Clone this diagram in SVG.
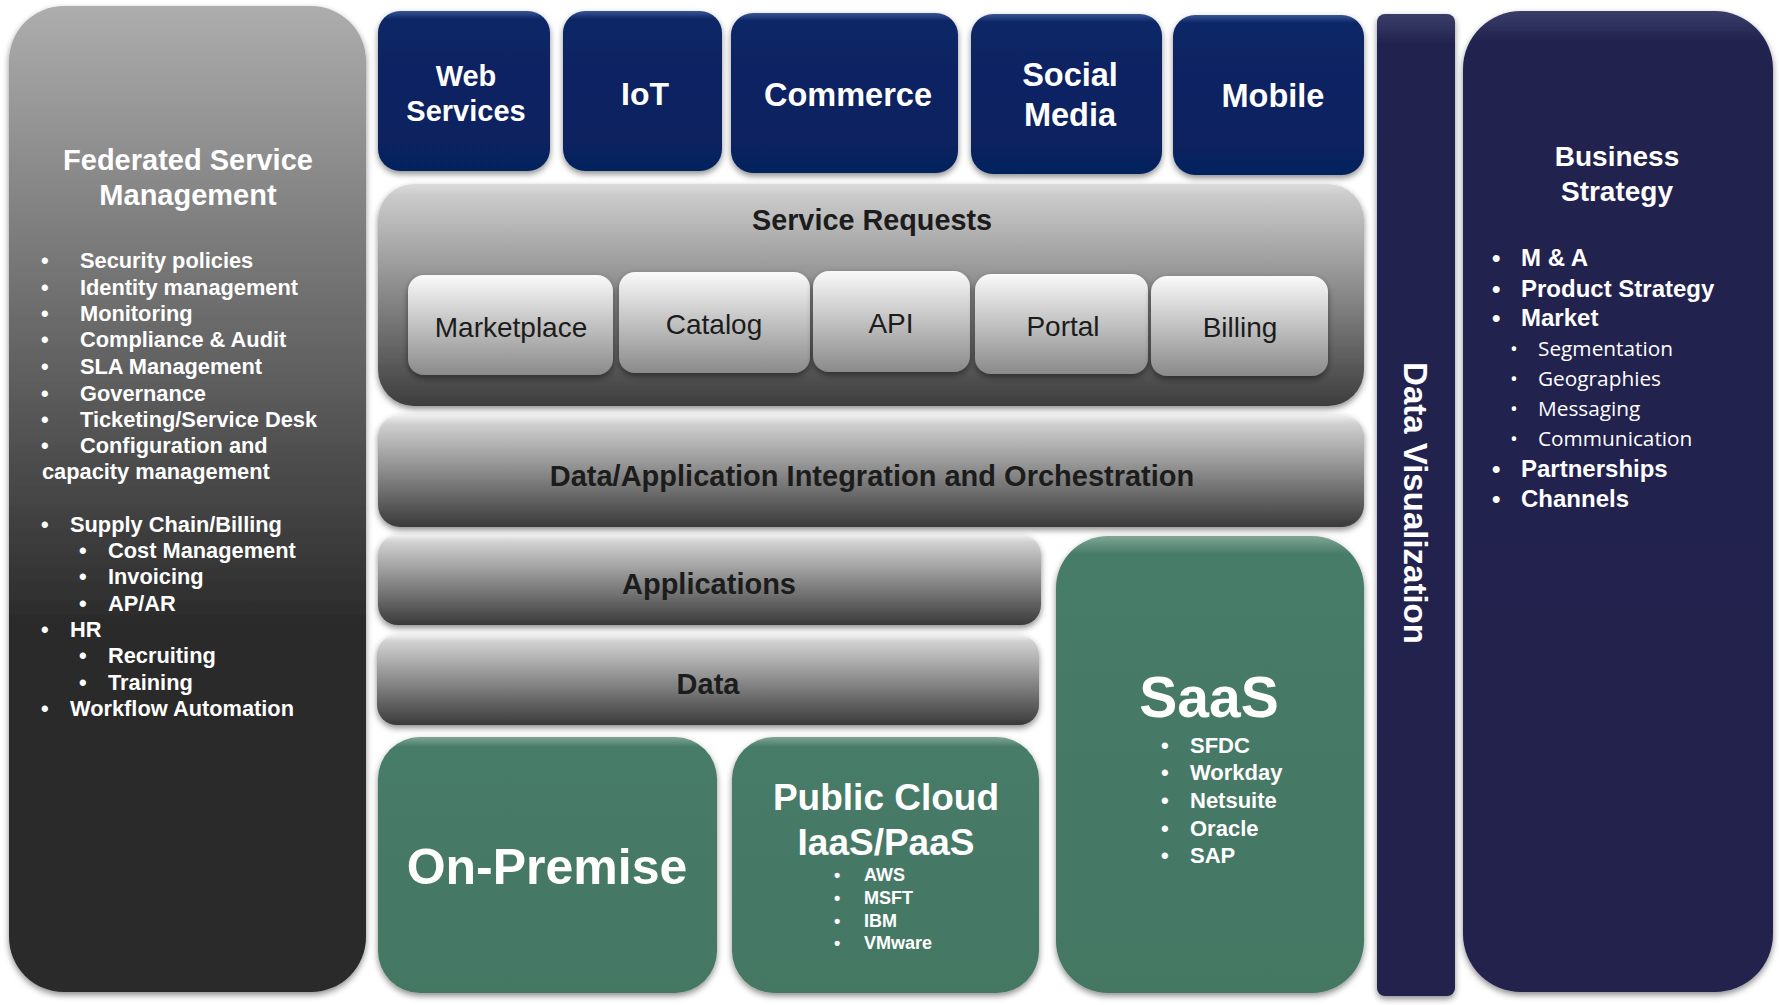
<svg xmlns="http://www.w3.org/2000/svg" width="1779" height="1005" viewBox="0 0 1779 1005">
<defs>
<linearGradient id="gLeft" x1="0" y1="0" x2="0" y2="1">
<stop offset="0" stop-color="#adadad"/>
<stop offset="0.62" stop-color="#2c2c2c"/>
<stop offset="1" stop-color="#2a2a2a"/>
</linearGradient>
<linearGradient id="gPanel" x1="0" y1="0" x2="0" y2="1">
<stop offset="0" stop-color="#dcdcdc"/>
<stop offset="0.05" stop-color="#cbcbcb"/>
<stop offset="1" stop-color="#3d3d3d"/>
</linearGradient>
<linearGradient id="gBar" x1="0" y1="0" x2="0" y2="1">
<stop offset="0" stop-color="#f0f0f0"/>
<stop offset="0.08" stop-color="#d0d0d0"/>
<stop offset="1" stop-color="#3a3a3a"/>
</linearGradient>
<linearGradient id="gBtn" x1="0" y1="0" x2="0" y2="1">
<stop offset="0" stop-color="#fafafa"/>
<stop offset="0.12" stop-color="#ececec"/>
<stop offset="1" stop-color="#8a8a8a"/>
</linearGradient>
<linearGradient id="gBlue" x1="0" y1="0" x2="0" y2="1">
<stop offset="0" stop-color="#3a5595"/>
<stop offset="0.05" stop-color="#0b2666"/>
<stop offset="1" stop-color="#06205d"/>
</linearGradient>
<linearGradient id="gGreen" x1="0" y1="0" x2="0" y2="1">
<stop offset="0" stop-color="#7fa596"/>
<stop offset="0.04" stop-color="#477b67"/>
<stop offset="1" stop-color="#447864"/>
</linearGradient>
<linearGradient id="gNavy" x1="0" y1="0" x2="0" y2="1">
<stop offset="0" stop-color="#3a3d68"/>
<stop offset="0.03" stop-color="#21244f"/>
<stop offset="1" stop-color="#20234e"/>
</linearGradient>
<filter id="sh" x="-10%" y="-10%" width="120%" height="125%">
<feDropShadow dx="0" dy="3" stdDeviation="3" flood-color="#000" flood-opacity="0.45"/>
</filter>
</defs>
<style>
.t{font-family:"Liberation Sans",Arial,sans-serif;}
.wb{font-family:"Liberation Sans",Arial,sans-serif;font-weight:bold;fill:#ffffff;}
.db{font-family:"Liberation Sans",Arial,sans-serif;font-weight:bold;fill:#1c1c1c;}
.btn{font-family:"Liberation Sans",Arial,sans-serif;fill:#1c1c1c;font-size:28px;text-anchor:middle;}
.c{text-anchor:middle;}
.li{font-size:21.8px;}
.sub{font-family:"Open Sans","Noto Sans",sans-serif;font-size:20.8px;fill:#ffffff;}
</style>
<rect width="1779" height="1005" fill="#ffffff"/>

<g id="federated-service-management">
<rect x="9" y="6" width="357" height="986" rx="55" ry="55" fill="url(#gLeft)" filter="url(#sh)"/>
<text class="wb c" x="188" y="170" font-size="29">Federated Service</text>
<text class="wb c" x="188" y="205" font-size="29">Management</text>
<g class="wb li">
<text x="41" y="268">•</text><text x="80" y="268">Security policies</text>
<text x="41" y="295">•</text><text x="80" y="295">Identity management</text>
<text x="41" y="321">•</text><text x="80" y="321">Monitoring</text>
<text x="41" y="347">•</text><text x="80" y="347">Compliance &amp; Audit</text>
<text x="41" y="374">•</text><text x="80" y="374">SLA Management</text>
<text x="41" y="401">•</text><text x="80" y="401">Governance</text>
<text x="41" y="427">•</text><text x="80" y="427">Ticketing/Service Desk</text>
<text x="41" y="453">•</text><text x="80" y="453">Configuration and</text>
<text x="42" y="479">capacity management</text>
<text x="41" y="532">•</text><text x="70" y="532">Supply Chain/Billing</text>
<text x="79" y="558">•</text><text x="108" y="558">Cost Management</text>
<text x="79" y="584">•</text><text x="108" y="584">Invoicing</text>
<text x="79" y="611">•</text><text x="108" y="611">AP/AR</text>
<text x="41" y="637">•</text><text x="70" y="637">HR</text>
<text x="79" y="663">•</text><text x="108" y="663">Recruiting</text>
<text x="79" y="690">•</text><text x="108" y="690">Training</text>
<text x="41" y="716">•</text><text x="70" y="716">Workflow Automation</text>
</g>
</g>

<g id="web-services">
<rect x="378" y="11" width="172" height="160" rx="22" fill="url(#gBlue)" filter="url(#sh)"/>
<text class="wb c" x="466" y="86" font-size="29">Web</text>
<text class="wb c" x="466" y="121" font-size="29">Services</text>
</g>
<g id="iot">
<rect x="563" y="11" width="159" height="160" rx="22" fill="url(#gBlue)" filter="url(#sh)"/>
<text class="wb c" x="645" y="105" font-size="32">IoT</text>
</g>
<g id="commerce">
<rect x="731" y="13" width="227" height="160" rx="22" fill="url(#gBlue)" filter="url(#sh)"/>
<text class="wb c" x="848" y="106" font-size="32.5">Commerce</text>
</g>
<g id="social-media">
<rect x="971" y="14" width="191" height="160" rx="22" fill="url(#gBlue)" filter="url(#sh)"/>
<text class="wb c" x="1070" y="86" font-size="32.5">Social</text>
<text class="wb c" x="1070" y="126" font-size="32.5">Media</text>
</g>
<g id="mobile">
<rect x="1173" y="15" width="191" height="160" rx="22" fill="url(#gBlue)" filter="url(#sh)"/>
<text class="wb c" x="1273" y="107" font-size="32.5">Mobile</text>
</g>

<g id="service-requests">
<rect x="378" y="184" width="986" height="222" rx="36" fill="url(#gPanel)" filter="url(#sh)"/>
<text class="db c" x="872" y="230" font-size="28.8">Service Requests</text>
</g>
<g id="marketplace">
<rect x="408" y="275" width="205" height="100" rx="16" fill="url(#gBtn)" filter="url(#sh)"/>
<text class="btn" x="511" y="337">Marketplace</text>
</g>
<g id="catalog">
<rect x="619" y="272" width="191" height="101" rx="16" fill="url(#gBtn)" filter="url(#sh)"/>
<text class="btn" x="714" y="334">Catalog</text>
</g>
<g id="api">
<rect x="813" y="271" width="157" height="101" rx="16" fill="url(#gBtn)" filter="url(#sh)"/>
<text class="btn" x="891" y="333">API</text>
</g>
<g id="portal">
<rect x="975" y="274" width="173" height="100" rx="16" fill="url(#gBtn)" filter="url(#sh)"/>
<text class="btn" x="1063" y="336">Portal</text>
</g>
<g id="billing">
<rect x="1151" y="276" width="177" height="100" rx="16" fill="url(#gBtn)" filter="url(#sh)"/>
<text class="btn" x="1240" y="337">Billing</text>
</g>

<g id="integration">
<rect x="378" y="415" width="986" height="112" rx="22" fill="url(#gBar)" filter="url(#sh)"/>
<text class="db c" x="872" y="486" font-size="29">Data/Application Integration and Orchestration</text>
</g>
<g id="applications">
<rect x="378" y="535" width="663" height="90" rx="20" fill="url(#gBar)" filter="url(#sh)"/>
<text class="db c" x="709" y="594" font-size="29">Applications</text>
</g>
<g id="data">
<rect x="377" y="635" width="662" height="90" rx="20" fill="url(#gBar)" filter="url(#sh)"/>
<text class="db c" x="708" y="694" font-size="29">Data</text>
</g>

<g id="on-premise">
<rect x="378" y="737" width="339" height="256" rx="42" fill="url(#gGreen)" filter="url(#sh)"/>
<text class="wb c" x="547" y="884" font-size="50">On-Premise</text>
</g>
<g id="public-cloud">
<rect x="732" y="737" width="307" height="256" rx="42" fill="url(#gGreen)" filter="url(#sh)"/>
<text class="wb c" x="886" y="810" font-size="37">Public Cloud</text>
<text class="wb c" x="886" y="855" font-size="37">IaaS/PaaS</text>
<g class="wb" font-size="18">
<text x="834" y="881">•</text><text x="864" y="881">AWS</text>
<text x="834" y="904">•</text><text x="864" y="904">MSFT</text>
<text x="834" y="927">•</text><text x="864" y="927">IBM</text>
<text x="834" y="949">•</text><text x="864" y="949">VMware</text>
</g>
</g>
<g id="saas">
<rect x="1056" y="536" width="308" height="457" rx="52" fill="url(#gGreen)" filter="url(#sh)"/>
<text class="wb c" x="1209" y="717" font-size="57">SaaS</text>
<g class="wb" font-size="22">
<text x="1161" y="753">•</text><text x="1190" y="753">SFDC</text>
<text x="1161" y="780">•</text><text x="1190" y="780">Workday</text>
<text x="1161" y="808">•</text><text x="1190" y="808">Netsuite</text>
<text x="1161" y="836">•</text><text x="1190" y="836">Oracle</text>
<text x="1161" y="863">•</text><text x="1190" y="863">SAP</text>
</g>
</g>

<g id="data-visualization">
<rect x="1377" y="14" width="78" height="982" rx="8" fill="url(#gNavy)" filter="url(#sh)"/>
<text class="wb c" x="0" y="0" font-size="33" transform="translate(1404 503) rotate(90)">Data Visualization</text>
</g>

<g id="business-strategy">
<rect x="1463" y="11" width="310" height="981" rx="58" fill="url(#gNavy)" filter="url(#sh)"/>
<text class="wb c" x="1617" y="166" font-size="28">Business</text>
<text class="wb c" x="1617" y="201" font-size="28">Strategy</text>
<g class="wb" font-size="24">
<text x="1492" y="266">•</text><text x="1521" y="266">M &amp; A</text>
<text x="1492" y="297">•</text><text x="1521" y="297">Product Strategy</text>
<text x="1492" y="326">•</text><text x="1521" y="326">Market</text>
<text x="1492" y="477">•</text><text x="1521" y="477">Partnerships</text>
<text x="1492" y="507">•</text><text x="1521" y="507">Channels</text>
</g>
<g class="sub">
<text x="1510" y="356">•</text><text x="1538" y="356">Segmentation</text>
<text x="1510" y="386">•</text><text x="1538" y="386">Geographies</text>
<text x="1510" y="416">•</text><text x="1538" y="416">Messaging</text>
<text x="1510" y="446">•</text><text x="1538" y="446">Communication</text>
</g>
</g>

<g id="connectors"></g>
</svg>
